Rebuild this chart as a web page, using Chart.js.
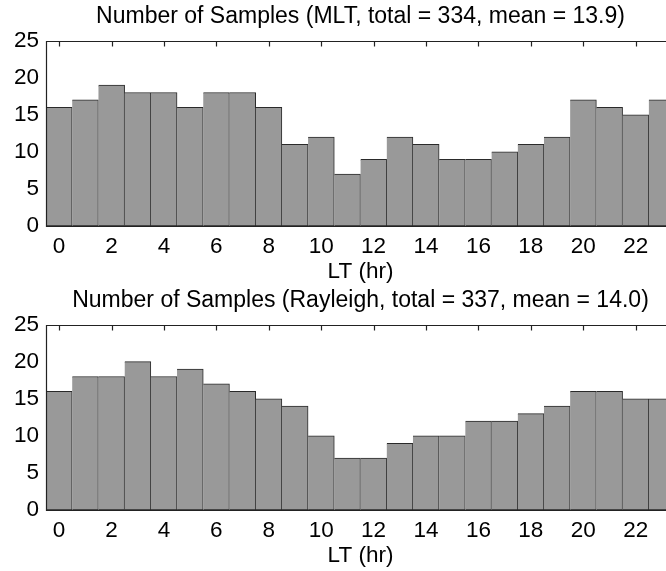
<!DOCTYPE html>
<html>
<head>
<meta charset="utf-8">
<script src="https://cdn.jsdelivr.net/npm/chart.js@4.4.1/dist/chart.umd.min.js"></script>
<style>
  html, body { margin:0; padding:0; background:#fff; }
  #wrap { width:666px; height:571px; overflow:hidden; position:relative; }
  canvas { display:block; }
</style>
</head>
<body>
<div id="wrap">
  <canvas id="c1" width="680" height="284" style="width:680px;height:284px"></canvas>
  <canvas id="c2" width="680" height="284" style="width:680px;height:284px"></canvas>
</div>
<script>
// data
const hours = [0,1,2,3,4,5,6,7,8,9,10,11,12,13,14,15,16,17,18,19,20,21,22,23];
const mltCounts = [16,17,19,18,18,16,18,18,16,11,12,7,9,12,11,9,9,10,11,12,17,16,15,17];
const rayCounts = [16,18,18,20,18,19,17,16,15,14,10,7,7,9,10,10,12,12,13,14,16,16,15,15];
const titleMlt = 'Number of Samples (MLT, total = 334, mean = 13.9)';
const titleRay = 'Number of Samples (Rayleigh, total = 337, mean = 14.0)';
const yTicks = [0,5,10,15,20,25];
const xLabel = 'LT (hr)';

const fontFam = '"Liberation Sans", Arial, Helvetica, sans-serif';

// box + inward ticks on top edge, like matlab axes
const frame = {
    id:'frame',
    afterDatasetsDraw(chart) {
        const {ctx, chartArea:a, scales:{x}} = chart;
        const l = Math.round(a.left)+0.5, t = Math.round(a.top)+0.5, b = Math.round(a.bottom)+0.5, r = Math.round(a.right)+0.5;
        ctx.save();
        ctx.strokeStyle = '#222';
        ctx.lineWidth = 1.2;
        ctx.beginPath();
        ctx.moveTo(r, t); ctx.lineTo(l, t); ctx.lineTo(l, b); ctx.lineTo(r, b); ctx.lineTo(r, t);
        hours.forEach((h,i)=>{
            if (h%2) return;
            let px = Math.round(x.getPixelForValue(i))+0.5;
            ctx.moveTo(px, t); ctx.lineTo(px, t+5);
        });
        ctx.stroke();
        ctx.restore();
    }
};

function makeChart(id, counts, title) {
    return new Chart(document.getElementById(id), {
        type:'bar',
        data:{
            labels: hours,
            datasets:[{
                data: counts,
                backgroundColor:'#999999',
                borderColor:'#2a2a2a',
                borderWidth:1,
                borderSkipped:'left',
                barPercentage:1,
                categoryPercentage:1
            }]
        },
        options:{
            responsive:false,
            animation:false,
            devicePixelRatio:1,
            layout:{ padding:{ left:0, right:5, top:0, bottom:1 } },
            plugins:{
                legend:{ display:false },
                tooltip:{ enabled:false },
                title:{
                    display:true,
                    fullSize:false,
                    text:title,
                    color:'#000',
                    font:{ family:fontFam, size:23, weight:'normal', lineHeight:1.2 },
                    padding:{ top:3, bottom:10 }
                }
            },
            scales:{
                x:{
                    afterFit:(s)=>{ s.height = 57; },
                    grid:{ display:false, drawTicks:false },
                    border:{ display:false },
                    ticks:{
                        color:'#000',
                        autoSkip:false,
                        maxRotation:0,
                        padding:10,
                        font:{ family:fontFam, size:22.5, lineHeight:1 },
                        callback:(v,i)=> hours[i]%2 ? '' : String(hours[i])
                    },
                    title:{
                        display:true,
                        text:xLabel,
                        color:'#000',
                        font:{ family:fontFam, size:22.5, lineHeight:1 },
                        padding:{ top:0, bottom:0 }
                    }
                },
                y:{
                    min:0, max:25,
                    afterFit:(s)=>{ s.width = 46; },
                    afterBuildTicks:(s)=>{ s.ticks = yTicks.map(v=>({value:v})); },
                    grid:{ display:false, drawTicks:false },
                    border:{ display:false },
                    ticks:{
                        color:'#000',
                        padding:7,
                        font:{ family:fontFam, size:22.5, lineHeight:1 }
                    }
                }
            }
        },
        plugins:[frame]
    });
}

makeChart('c1', mltCounts, titleMlt);
makeChart('c2', rayCounts, titleRay);
</script>
</body>
</html>
